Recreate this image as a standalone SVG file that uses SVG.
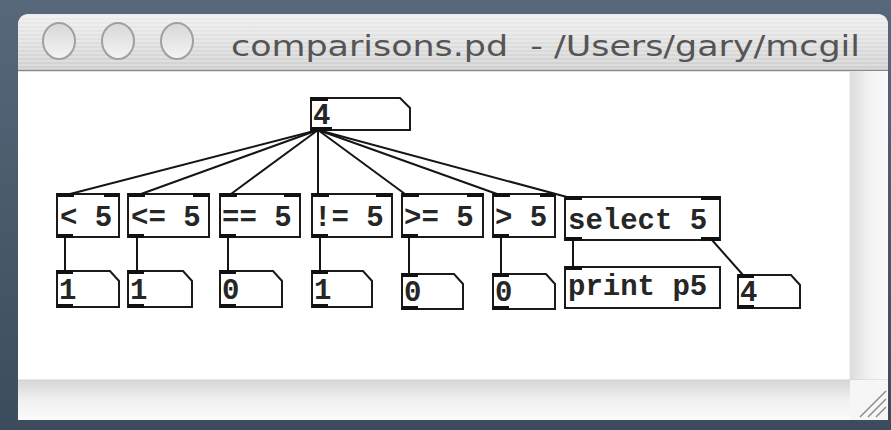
<svg xmlns="http://www.w3.org/2000/svg" width="891" height="430" viewBox="0 0 891 430">
<defs>
<linearGradient id="titleG" x1="0" y1="0" x2="0" y2="1">
<stop offset="0" stop-color="#eeeeee"/>
<stop offset="1" stop-color="#cfcfcf"/>
</linearGradient>
<pattern id="stripes" width="4" height="4" patternUnits="userSpaceOnUse">
<rect width="4" height="2" fill="#ffffff" fill-opacity="0.25"/>
</pattern>
<linearGradient id="btnG" x1="0" y1="0" x2="0" y2="1">
<stop offset="0" stop-color="#d8d8d8"/>
<stop offset="1" stop-color="#f4f4f4"/>
</linearGradient>
<linearGradient id="hbarG" x1="0" y1="0" x2="0" y2="1">
<stop offset="0" stop-color="#d6d6d6"/>
<stop offset="0.5" stop-color="#f0f0f0"/>
<stop offset="1" stop-color="#fbfbfb"/>
</linearGradient>
<linearGradient id="vbarG" x1="0" y1="0" x2="1" y2="0">
<stop offset="0" stop-color="#dcdcdc"/>
<stop offset="0.5" stop-color="#f2f2f2"/>
<stop offset="1" stop-color="#fafafa"/>
</linearGradient>
<linearGradient id="bgG" x1="0" y1="0" x2="0" y2="1">
<stop offset="0" stop-color="#56687a"/>
<stop offset="1" stop-color="#3c4c5c"/>
</linearGradient>
</defs>
<style>
.box{fill:#ffffff;stroke:#1a1a1a;stroke-width:2}
.io{fill:#111111}
.t{font-family:"Liberation Mono","DejaVu Sans Mono",monospace;font-weight:bold;font-size:29px;fill:#262626}
.c{stroke:#151515;stroke-width:2;fill:none}
.title{font-family:"DejaVu Sans","Open Sans",sans-serif;font-size:29px;fill:#555555;white-space:pre}
</style>
<rect x="0" y="0" width="891" height="430" fill="url(#bgG)"/>
<g id="window">
<path d="M18 26 Q18 14 30 14 L876 14 Q888 14 888 26 L888 420 L18 420 Z" fill="#ffffff"/>
<path d="M18 26 Q18 14 30 14 L876 14 Q888 14 888 26 L888 70 L18 70 Z" fill="url(#titleG)"/>
<path d="M18 26 Q18 14 30 14 L876 14 Q888 14 888 26 L888 70 L18 70 Z" fill="url(#stripes)"/>
<line x1="18" y1="70.5" x2="888" y2="70.5" stroke="#8a8a8a" stroke-width="1.5"/>
<ellipse cx="59" cy="41" rx="16" ry="18" fill="url(#btnG)" stroke="#a0a0a0" stroke-width="2"/>
<ellipse cx="118" cy="41" rx="16" ry="18" fill="url(#btnG)" stroke="#a0a0a0" stroke-width="2"/>
<ellipse cx="177" cy="41" rx="16" ry="18" fill="url(#btnG)" stroke="#a0a0a0" stroke-width="2"/>
<text class="title" x="231" y="56" xml:space="preserve" textLength="629" lengthAdjust="spacingAndGlyphs">comparisons.pd  - /Users/gary/mcgil</text>
<rect x="850" y="71" width="38" height="309" fill="url(#vbarG)"/>
<line x1="850" y1="71" x2="850" y2="380" stroke="#e2e2e2" stroke-width="1"/>
<rect x="18" y="380" width="870" height="40" fill="url(#hbarG)"/>
<line x1="18" y1="380" x2="888" y2="380" stroke="#d2d2d2" stroke-width="1"/>
<rect x="850" y="380" width="38" height="40" fill="#f6f6f6"/>
<g stroke="#8a8a8a" stroke-width="1.5">
<line x1="860" y1="417" x2="886" y2="391"/>
<line x1="868" y1="417" x2="886" y2="399"/>
<line x1="876" y1="417" x2="886" y2="407"/>
</g>
</g>
<g id="connectors">
<line class="c" x1="318" y1="130" x2="70" y2="194"/>
<line class="c" x1="318" y1="130" x2="141" y2="194"/>
<line class="c" x1="318" y1="130" x2="231" y2="194"/>
<line class="c" x1="318" y1="130" x2="318" y2="194"/>
<line class="c" x1="318" y1="130" x2="405" y2="194"/>
<line class="c" x1="318" y1="130" x2="497" y2="194"/>
<line class="c" x1="318" y1="130" x2="567" y2="197"/>
<line class="c" x1="65" y1="237" x2="65" y2="271"/>
<line class="c" x1="137" y1="237" x2="137" y2="271"/>
<line class="c" x1="228" y1="237" x2="228" y2="271"/>
<line class="c" x1="320" y1="237" x2="320" y2="271"/>
<line class="c" x1="409" y1="237" x2="409" y2="274"/>
<line class="c" x1="501" y1="237" x2="501" y2="274"/>
<line class="c" x1="573" y1="240" x2="573" y2="267"/>
<line class="c" x1="712" y1="240" x2="743" y2="275"/>
</g>
<g id="num_top">
<path class="box" d="M311 98 H400 L410 108 V130 H311 Z"/>
<rect class="io" x="311" y="97" width="17" height="4"/>
<rect class="io" x="311" y="127" width="21" height="4"/>
<text class="t" x="313" y="124">4</text>
</g>
<g id="obj_lt">
<rect class="box" x="57" y="194" width="62" height="43"/>
<rect class="io" x="57" y="193" width="17" height="4"/>
<rect class="io" x="104" y="193" width="15" height="4"/>
<rect class="io" x="57" y="234" width="16" height="4"/>
<text class="t" x="60" y="226">&lt; 5</text>
</g>
<g id="obj_le">
<rect class="box" x="128" y="194" width="81" height="43"/>
<rect class="io" x="128" y="193" width="17" height="4"/>
<rect class="io" x="193" y="193" width="16" height="4"/>
<rect class="io" x="128" y="234" width="16" height="4"/>
<text class="t" x="131" y="226">&lt;= 5</text>
</g>
<g id="obj_eq">
<rect class="box" x="220" y="194" width="80" height="43"/>
<rect class="io" x="220" y="193" width="17" height="4"/>
<rect class="io" x="284" y="193" width="16" height="4"/>
<rect class="io" x="220" y="234" width="16" height="4"/>
<text class="t" x="222" y="226">== 5</text>
</g>
<g id="obj_ne">
<rect class="box" x="312" y="194" width="80" height="43"/>
<rect class="io" x="312" y="193" width="17" height="4"/>
<rect class="io" x="376" y="193" width="16" height="4"/>
<rect class="io" x="312" y="234" width="16" height="4"/>
<text class="t" x="314" y="226">!= 5</text>
</g>
<g id="obj_ge">
<rect class="box" x="402" y="194" width="81" height="43"/>
<rect class="io" x="402" y="193" width="17" height="4"/>
<rect class="io" x="467" y="193" width="16" height="4"/>
<rect class="io" x="402" y="234" width="16" height="4"/>
<text class="t" x="404" y="226">&gt;= 5</text>
</g>
<g id="obj_gt">
<rect class="box" x="493" y="194" width="62" height="43"/>
<rect class="io" x="493" y="193" width="17" height="4"/>
<rect class="io" x="540" y="193" width="15" height="4"/>
<rect class="io" x="493" y="234" width="16" height="4"/>
<text class="t" x="495" y="226">&gt; 5</text>
</g>
<g id="obj_select">
<rect class="box" x="565" y="197" width="155" height="43"/>
<rect class="io" x="565" y="196" width="17" height="4"/>
<rect class="io" x="701" y="196" width="19" height="4"/>
<rect class="io" x="565" y="237" width="17" height="4"/>
<rect class="io" x="701" y="237" width="19" height="4"/>
<text class="t" x="568" y="229">select 5</text>
</g>
<g id="num_1a">
<path class="box" d="M57 271 H110 L119 281 V307 H57 Z"/>
<rect class="io" x="57" y="270" width="16" height="4"/>
<rect class="io" x="57" y="304" width="16" height="4"/>
<text class="t" x="59" y="299">1</text>
</g>
<g id="num_1b">
<path class="box" d="M128 271 H183 L192 281 V307 H128 Z"/>
<rect class="io" x="128" y="270" width="16" height="4"/>
<rect class="io" x="128" y="304" width="16" height="4"/>
<text class="t" x="130" y="299">1</text>
</g>
<g id="num_0a">
<path class="box" d="M220 271 H273 L282 281 V307 H220 Z"/>
<rect class="io" x="220" y="270" width="16" height="4"/>
<rect class="io" x="220" y="304" width="16" height="4"/>
<text class="t" x="222" y="299">0</text>
</g>
<g id="num_1c">
<path class="box" d="M312 271 H363 L372 281 V307 H312 Z"/>
<rect class="io" x="312" y="270" width="16" height="4"/>
<rect class="io" x="312" y="304" width="16" height="4"/>
<text class="t" x="314" y="299">1</text>
</g>
<g id="num_0b">
<path class="box" d="M402 274 H454 L463 284 V309 H402 Z"/>
<rect class="io" x="402" y="273" width="16" height="4"/>
<rect class="io" x="402" y="306" width="16" height="4"/>
<text class="t" x="404" y="301">0</text>
</g>
<g id="num_0c">
<path class="box" d="M493 274 H546 L555 284 V309 H493 Z"/>
<rect class="io" x="493" y="273" width="16" height="4"/>
<rect class="io" x="493" y="306" width="16" height="4"/>
<text class="t" x="495" y="301">0</text>
</g>
<g id="obj_print">
<rect class="box" x="565" y="267" width="155" height="41"/>
<rect class="io" x="565" y="266" width="17" height="4"/>
<text class="t" x="568" y="295">print p5</text>
</g>
<g id="num_4">
<path class="box" d="M738 275 H791 L800 285 V308 H738 Z"/>
<rect class="io" x="738" y="274" width="16" height="4"/>
<rect class="io" x="738" y="305" width="16" height="4"/>
<text class="t" x="740" y="301">4</text>
</g>
</svg>
